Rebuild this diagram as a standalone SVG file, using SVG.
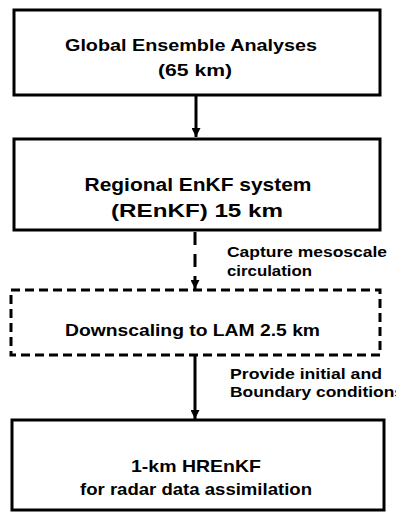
<svg xmlns="http://www.w3.org/2000/svg" width="396" height="512" viewBox="0 0 396 512">
<defs>
<style>
.box{fill:#fff;stroke:#000;stroke-width:3}
.dbox{fill:#fff;stroke:#000;stroke-width:3;stroke-dasharray:9 5}
.t{font-family:"Liberation Sans",Arial,sans-serif;font-weight:bold;font-size:17px;fill:#000}
.c{text-anchor:middle}
.l{font-family:"Liberation Sans",Arial,sans-serif;font-weight:bold;font-size:14.5px;fill:#000}
.ln{stroke:#000;stroke-width:3;fill:none}
</style>
<marker id="ah" viewBox="0 0 10 10" refX="10" refY="5" markerWidth="3" markerHeight="3" orient="auto" markerUnits="strokeWidth">
<path d="M0,0 L10,5 L0,10 z" fill="#000"/>
</marker>
</defs>
<rect width="396" height="512" fill="#fff"/>
<g id="connectors">
<line class="ln" x1="196" y1="95" x2="196" y2="137" marker-end="url(#ah)"/>
<line class="ln" x1="195" y1="232" x2="195" y2="289" stroke-dasharray="13 9" marker-end="url(#ah)"/>
<line class="ln" x1="195" y1="356" x2="195" y2="419" marker-end="url(#ah)"/>
<text class="l" x="227" y="257" textLength="160" lengthAdjust="spacingAndGlyphs">Capture mesoscale</text>
<text class="l" x="227" y="276" textLength="85" lengthAdjust="spacingAndGlyphs">circulation</text>
<text class="l" x="230" y="379" textLength="152" lengthAdjust="spacingAndGlyphs">Provide initial and</text>
<text class="l" x="230" y="397" textLength="174" lengthAdjust="spacingAndGlyphs">Boundary conditions</text>
</g>
<g id="node-global">
<rect class="box" x="14" y="10" width="366" height="85"/>
<text class="t c" x="191" y="51" textLength="252" lengthAdjust="spacingAndGlyphs">Global Ensemble Analyses</text>
<text class="t c" x="195" y="76" textLength="74" lengthAdjust="spacingAndGlyphs">(65 km)</text>
</g>
<g id="node-regional">
<rect class="box" x="14" y="139" width="366" height="91"/>
<text class="t c" x="198" y="191" textLength="227" lengthAdjust="spacingAndGlyphs" style="font-size:18px">Regional EnKF system</text>
<text class="t c" x="197" y="217" textLength="172" lengthAdjust="spacingAndGlyphs" style="font-size:18px">(REnKF) 15 km</text>
</g>
<g id="node-downscaling">
<rect class="dbox" x="11" y="290" width="369" height="65"/>
<text class="t" x="65" y="336" textLength="255" lengthAdjust="spacingAndGlyphs">Downscaling to LAM 2.5 km</text>
</g>
<g id="node-hrenkf">
<rect class="box" x="12" y="420" width="372" height="90"/>
<text class="t c" x="196" y="472" textLength="130" lengthAdjust="spacingAndGlyphs">1-km HREnKF</text>
<text class="t c" x="196" y="495" textLength="232" lengthAdjust="spacingAndGlyphs">for radar data assimilation</text>
</g>
</svg>
